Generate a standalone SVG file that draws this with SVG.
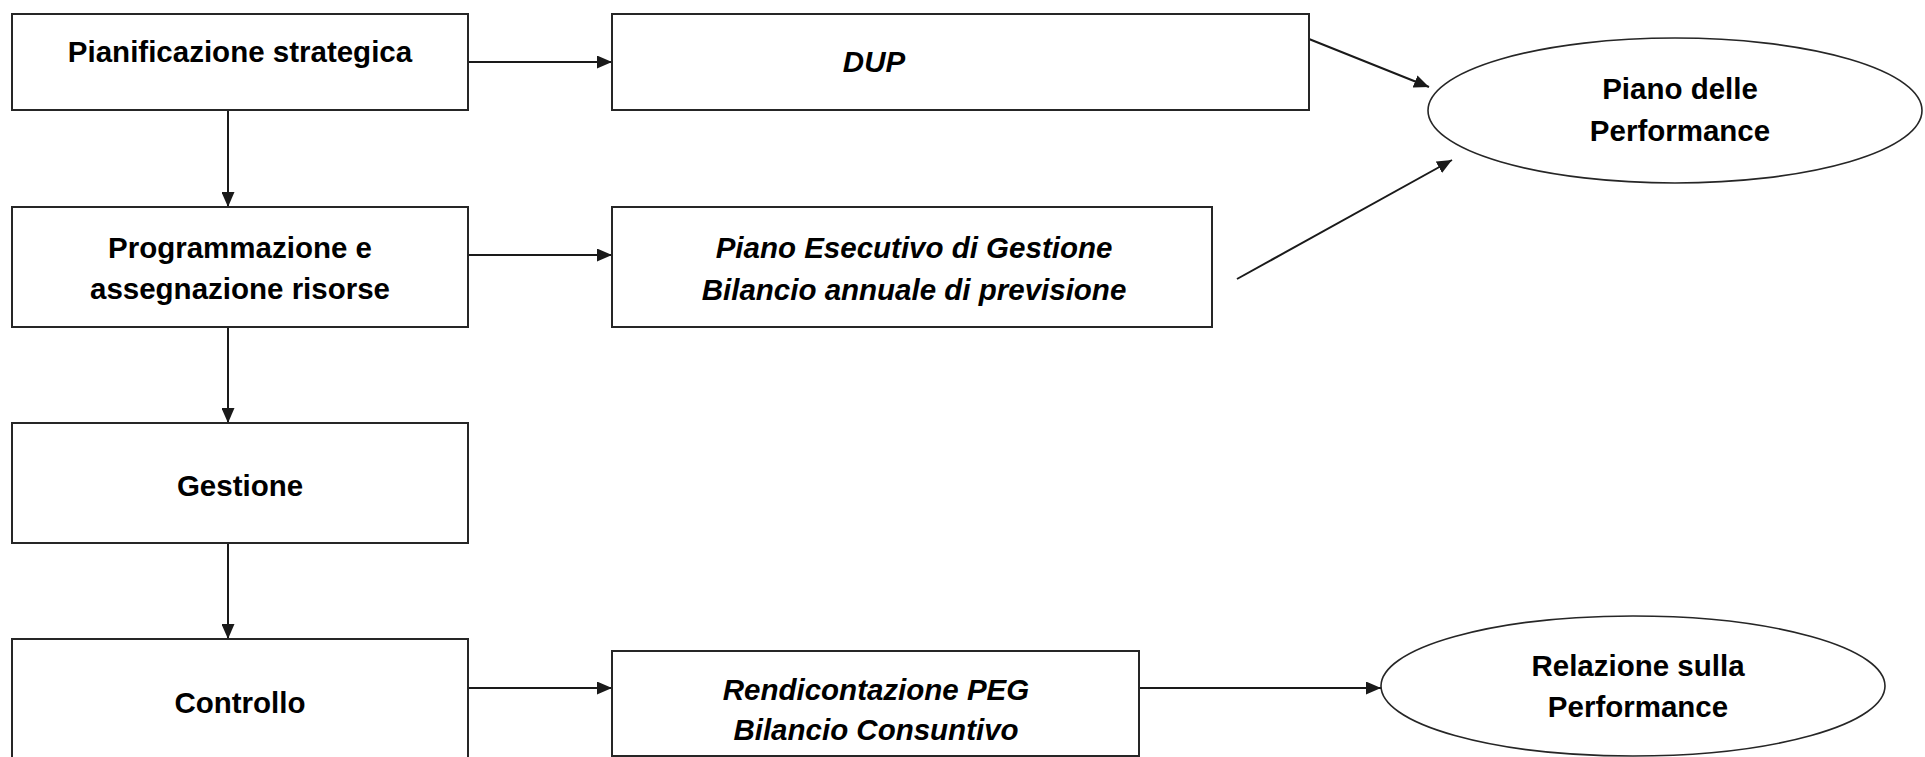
<svg xmlns="http://www.w3.org/2000/svg" width="1925" height="757" viewBox="0 0 1925 757">
<style>
.box{fill:#fff;stroke:#262626;stroke-width:2}
.ell{fill:#fff;stroke:#262626;stroke-width:1.6}
.t{font-family:"Liberation Sans",Arial,sans-serif;font-size:29.5px;font-weight:bold;fill:#000;text-anchor:middle}
.i{font-style:italic}
.c{fill:none;stroke:#1a1a1a;stroke-width:2}
</style>
<defs>
<marker id="ah" viewBox="0 0 15 13" refX="15" refY="6.5" markerWidth="15" markerHeight="13" markerUnits="userSpaceOnUse" orient="auto">
<path d="M0,0 L15,6.5 L0,13 z" fill="#1a1a1a"/>
</marker>
</defs>
<rect width="1925" height="757" fill="#fff"/>
<g id="connectors">
<line class="c" x1="468" y1="62" x2="612" y2="62" marker-end="url(#ah)"/>
<line class="c" x1="468" y1="255" x2="612" y2="255" marker-end="url(#ah)"/>
<line class="c" x1="468" y1="688" x2="612" y2="688" marker-end="url(#ah)"/>
<line class="c" x1="1139" y1="688" x2="1381" y2="688" marker-end="url(#ah)"/>
<line class="c" x1="228" y1="110" x2="228" y2="207" marker-end="url(#ah)"/>
<line class="c" x1="228" y1="327" x2="228" y2="423" marker-end="url(#ah)"/>
<line class="c" x1="228" y1="543" x2="228" y2="639" marker-end="url(#ah)"/>
<line class="c" x1="1309" y1="39" x2="1429" y2="87" marker-end="url(#ah)"/>
<line class="c" x1="1237" y1="279" x2="1452" y2="160" marker-end="url(#ah)"/>
</g>
<g id="pianificazione">
<rect class="box" x="12" y="14" width="456" height="96"/>
<text class="t" x="240" y="62">Pianificazione strategica</text>
</g>
<g id="programmazione">
<rect class="box" x="12" y="207" width="456" height="120"/>
<text class="t" x="240" y="258">Programmazione e</text>
<text class="t" x="240" y="299">assegnazione risorse</text>
</g>
<g id="gestione">
<rect class="box" x="12" y="423" width="456" height="120"/>
<text class="t" x="240" y="496">Gestione</text>
</g>
<g id="controllo">
<rect class="box" x="12" y="639" width="456" height="140"/>
<text class="t" x="240" y="713">Controllo</text>
</g>
<g id="dup">
<rect class="box" x="612" y="14" width="697" height="96"/>
<text class="t i" x="874" y="72">DUP</text>
</g>
<g id="peg">
<rect class="box" x="612" y="207" width="600" height="120"/>
<text class="t i" x="914" y="258">Piano Esecutivo di Gestione</text>
<text class="t i" x="914" y="300">Bilancio annuale di previsione</text>
</g>
<g id="rendicontazione">
<rect class="box" x="612" y="651" width="527" height="105"/>
<text class="t i" x="876" y="700">Rendicontazione PEG</text>
<text class="t i" x="876" y="740">Bilancio Consuntivo</text>
</g>
<g id="piano-performance">
<ellipse class="ell" cx="1675" cy="110.5" rx="247" ry="72.5"/>
<text class="t" x="1680" y="99">Piano delle</text>
<text class="t" x="1680" y="141">Performance</text>
</g>
<g id="relazione-performance">
<ellipse class="ell" cx="1633" cy="686" rx="252" ry="70"/>
<text class="t" x="1638" y="676">Relazione sulla</text>
<text class="t" x="1638" y="717">Performance</text>
</g>
</svg>
